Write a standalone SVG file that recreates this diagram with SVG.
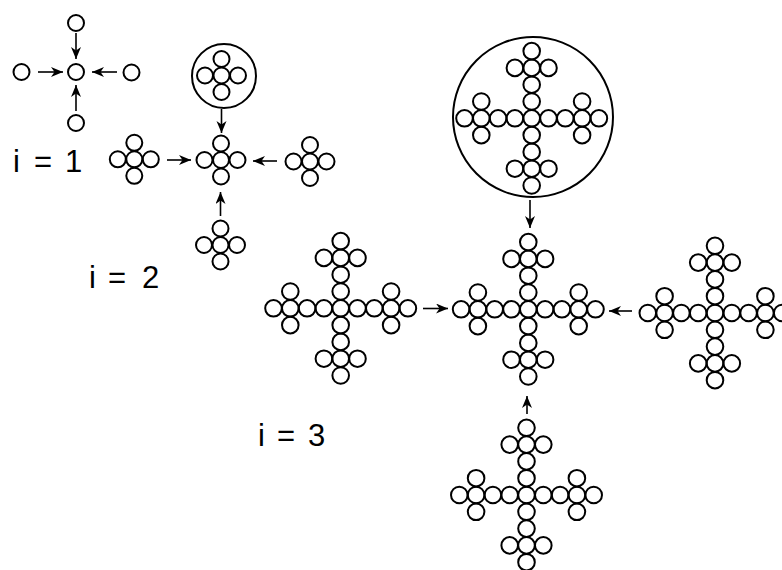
<svg xmlns="http://www.w3.org/2000/svg" xmlns:xlink="http://www.w3.org/1999/xlink" width="782" height="570" viewBox="0 0 782 570">
<style>
.c{fill:none;stroke:#000;stroke-width:2}
.a{fill:none;stroke:#000;stroke-width:1.6;marker-end:url(#ah)}
.t{font-family:"Liberation Sans",Arial,sans-serif;font-size:31px;fill:#000}
</style>
<defs>
<marker id="ah" markerUnits="userSpaceOnUse" markerWidth="13" markerHeight="11" refX="12" refY="5" orient="auto">
<path d="M0,0 L12,5 L0,10 L3.5,5 Z" fill="#000"/>
</marker>
<g id="p2" class="c">
<circle cx="0" cy="0" r="8"/><circle cx="-16.5" cy="0" r="8"/><circle cx="16.5" cy="0" r="8"/><circle cx="0" cy="-16.5" r="8"/><circle cx="0" cy="16.5" r="8"/>
</g>
<g id="p3" class="c">
<circle cx="0" cy="0" r="8.3"/>
<circle cx="-16.8" cy="0" r="8.3"/><circle cx="-33.6" cy="0" r="8.3"/><circle cx="-50.4" cy="0" r="8.3"/><circle cx="-67.2" cy="0" r="8.3"/><circle cx="-50.4" cy="-16.8" r="8.3"/><circle cx="-50.4" cy="16.8" r="8.3"/>
<circle cx="16.8" cy="0" r="8.3"/><circle cx="33.6" cy="0" r="8.3"/><circle cx="50.4" cy="0" r="8.3"/><circle cx="67.2" cy="0" r="8.3"/><circle cx="50.4" cy="-16.8" r="8.3"/><circle cx="50.4" cy="16.8" r="8.3"/>
<circle cx="0" cy="-16.8" r="8.3"/><circle cx="0" cy="-33.6" r="8.3"/><circle cx="0" cy="-50.4" r="8.3"/><circle cx="0" cy="-67.2" r="8.3"/><circle cx="-16.8" cy="-50.4" r="8.3"/><circle cx="16.8" cy="-50.4" r="8.3"/>
<circle cx="0" cy="16.8" r="8.3"/><circle cx="0" cy="33.6" r="8.3"/><circle cx="0" cy="50.4" r="8.3"/><circle cx="0" cy="67.2" r="8.3"/><circle cx="-16.8" cy="50.4" r="8.3"/><circle cx="16.8" cy="50.4" r="8.3"/>
</g>
</defs>

<!-- i = 1 -->
<g id="n1-top"><circle class="c" cx="76" cy="23" r="8"/></g>
<g id="n1-center"><circle class="c" cx="76" cy="72" r="8"/></g>
<g id="n1-left"><circle class="c" cx="21.5" cy="72" r="8"/></g>
<g id="n1-right"><circle class="c" cx="131.5" cy="72.5" r="8"/></g>
<g id="n1-bottom"><circle class="c" cx="76" cy="123" r="8"/></g>

<!-- i = 2 -->
<g id="n2-top"><circle class="c" cx="224" cy="76" r="32"/><use xlink:href="#p2" x="221.5" y="75.5"/></g>
<g id="n2-center"><use xlink:href="#p2" x="221" y="160"/></g>
<g id="n2-left"><use xlink:href="#p2" x="134.3" y="159.3"/></g>
<g id="n2-right"><use xlink:href="#p2" x="310" y="161.5"/></g>
<g id="n2-bottom"><use xlink:href="#p2" x="220.5" y="245"/></g>

<!-- i = 3 -->
<g id="n3-top"><circle class="c" cx="533" cy="117" r="80"/><use xlink:href="#p3" x="531.7" y="118.3"/></g>
<g id="n3-center"><use xlink:href="#p3" x="528.3" y="309.3"/></g>
<g id="n3-left"><use xlink:href="#p3" x="340.7" y="308.3"/></g>
<g id="n3-right"><use xlink:href="#p3" x="715" y="313"/></g>
<g id="n3-bottom"><use xlink:href="#p3" x="526.5" y="495"/></g>

<g id="connectors">
<line class="a" x1="76" y1="33" x2="76" y2="59"/>
<line class="a" x1="38" y1="72" x2="63" y2="72"/>
<line class="a" x1="117" y1="72" x2="92" y2="72"/>
<line class="a" x1="76" y1="111" x2="76" y2="85"/>

<line class="a" x1="221.5" y1="109" x2="221.5" y2="133"/>
<line class="a" x1="167" y1="160" x2="191" y2="160"/>
<line class="a" x1="277" y1="161" x2="253" y2="161"/>
<line class="a" x1="220.5" y1="216" x2="220.5" y2="192"/>

<line class="a" x1="530" y1="200" x2="530" y2="228"/>
<line class="a" x1="423" y1="308.5" x2="448" y2="308.5"/>
<line class="a" x1="632" y1="311" x2="609" y2="311"/>
<line class="a" x1="527" y1="414" x2="527" y2="396"/>
</g>

<text class="t" x="13 20 34 55 65" y="172">i = 1</text>
<text class="t" x="89 95 108 129 142" y="288">i = 2</text>
<text class="t" x="258 264 277 298 308" y="446">i = 3</text>
</svg>
